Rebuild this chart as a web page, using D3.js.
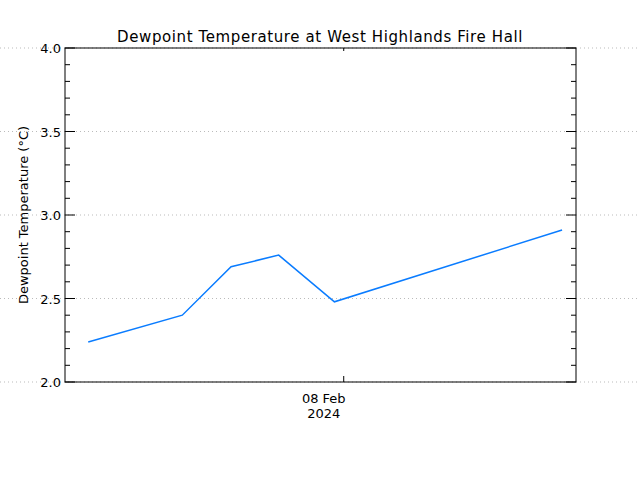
<!DOCTYPE html>
<html><head><meta charset="utf-8">
<script src="https://cdn.jsdelivr.net/npm/d3@7"></script>
<style>body{margin:0;background:#fff}text{font-family:"DejaVu Sans",sans-serif;font-size:13px}</style>
</head><body><svg id="c" width="640" height="480"></svg>
<script>
// Data.
var times = ["2024-02-07T20:20", "2024-02-07T21:41", "2024-02-07T22:23",
             "2024-02-07T23:04", "2024-02-07T23:52", "2024-02-08T03:08"],
    dewpoint = [2.24, 2.40, 2.69, 2.76, 2.48, 2.91],
    yTicks = [2.0, 2.5, 3.0, 3.5, 4.0],
    xTickTime = "2024-02-08T00:00";

var parse = d3.timeParse("%Y-%m-%dT%H:%M"),
    svg = d3.select("#c"),
    L = 65, R = 576, T = 48, B = 382;

var x = d3.scaleTime()
    .domain([parse("2024-02-07T20:00"), parse("2024-02-08T03:20")])
    .range([L, R]);
var y = d3.scaleLinear().domain([2, 4]).range([B, T]);

// Dotted grid across full width.
svg.selectAll(".grid").data(yTicks).enter().append("line")
  .attr("x1", 0).attr("x2", 640)
  .attr("y1", function(d) { return y(d); }).attr("y2", function(d) { return y(d); })
  .attr("stroke", "#bbb").attr("stroke-dasharray", "1,3");

// Frame.
svg.append("rect").attr("x", L).attr("y", T).attr("width", R - L).attr("height", B - T)
  .attr("fill", "none").attr("stroke", "#000");

// Y ticks both sides.
var minor = d3.range(2, 4.001, 0.1);
minor.forEach(function(v) {
  var major = Math.abs(v * 2 - Math.round(v * 2)) < 1e-6, len = major ? 10 : 5;
  svg.append("line").attr("x1", L).attr("x2", L + len).attr("y1", y(v)).attr("y2", y(v)).attr("stroke", "#000");
  svg.append("line").attr("x1", R).attr("x2", R - len).attr("y1", y(v)).attr("y2", y(v)).attr("stroke", "#000");
});
svg.selectAll(".yl").data(yTicks).enter().append("text")
  .attr("x", L - 4).attr("y", function(d) { return y(d) + 5; })
  .attr("text-anchor", "end").text(d3.format(".1f"));

// X tick.
var xt = x(parse(xTickTime));
svg.append("line").attr("x1", xt).attr("x2", xt).attr("y1", B).attr("y2", B - 6).attr("stroke", "#000");
svg.append("line").attr("x1", xt).attr("x2", xt).attr("y1", T).attr("y2", T + 3).attr("stroke", "#000");
svg.append("text").attr("x", xt - 20).attr("y", 403).attr("text-anchor", "middle").text("08 Feb");
svg.append("text").attr("x", xt - 20).attr("y", 418).attr("text-anchor", "middle").text("2024");

// Line.
var data = times.map(function(t, i) { return [parse(t), dewpoint[i]]; });
svg.append("path").datum(data)
  .attr("d", d3.line().x(function(d) { return x(d[0]); }).y(function(d) { return y(d[1]); }))
  .attr("fill", "none").attr("stroke", "#0a7cff").attr("stroke-width", 1.5);

// Labels.
svg.append("text").attr("x", 320).attr("y", 42).attr("text-anchor", "middle")
  .style("font-size", "15px").style("letter-spacing", "0.6px")
  .text("Dewpoint Temperature at West Highlands Fire Hall");
svg.append("text").attr("transform", "translate(28,215) rotate(-90)")
  .attr("text-anchor", "middle").text("Dewpoint Temperature (°C)");
</script></body></html>
